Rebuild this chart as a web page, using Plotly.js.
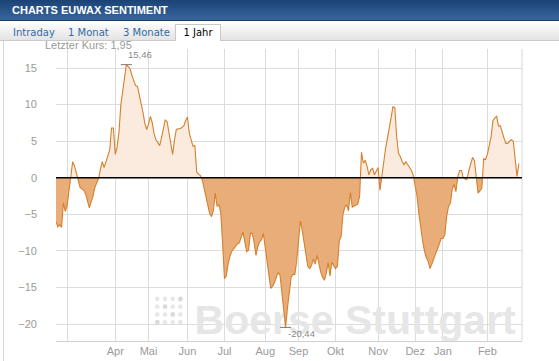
<!DOCTYPE html>
<html><head><meta charset="utf-8">
<script src="https://cdn.plot.ly/plotly-3.0.1.min.js"></script>
<style>
html,body{margin:0;padding:0;width:559px;height:361px;overflow:hidden;background:#fff;}
#hdr{position:absolute;left:0;top:0;width:559px;height:21px;background:linear-gradient(#1b4275,#37669d);border-bottom:1px solid #1d3b62;color:#fff;font:bold 11px "Liberation Sans",Arial,sans-serif;line-height:21px;padding-left:12px;box-sizing:border-box;z-index:3;}
#tabs{position:absolute;left:0;top:21px;width:559px;height:20px;background:linear-gradient(#ffffff,#e3e3e3);border-bottom:1px solid #c9c9c9;box-sizing:border-box;z-index:3;font:10px "DejaVu Sans",Verdana,sans-serif;}
.tab{position:absolute;top:4px;line-height:15px;color:#2f6aa5;white-space:nowrap;}
#act{position:absolute;left:175px;top:3px;width:46px;height:17px;background:#fff;border:1px solid #c9c9c9;border-bottom:none;box-sizing:border-box;color:#000;text-align:center;line-height:16px;}
#border{position:absolute;left:3px;top:41px;width:1px;height:320px;background:#d6d6d6;z-index:3}
#chart{position:absolute;left:0;top:0;width:559px;height:361px;z-index:1}
</style>
</head><body>
<div id="chart"></div>
<div id="hdr">CHARTS EUWAX SENTIMENT</div>
<div id="tabs">
  <span class="tab" style="left:13px">Intraday</span>
  <span class="tab" style="left:68px">1 Monat</span>
  <span class="tab" style="left:123px">3 Monate</span>
  <div id="act">1 Jahr</div>
</div>
<div id="border"></div>
<script>
// Sentiment values, one per trading day
const sentiment = [
 -6.0,-6.7,-6.4,-6.8,-3.4,-4.6,-3.8,-2.0,-0.1,2.2,
 1.6,0.8,-0.3,-1.3,-1.5,-1.7,-2.2,-3.0,-4.1,-3.3,
 -2.5,-1.3,-0.6,-0.1,1.2,2.2,1.4,2.2,2.9,3.8,
 6.8,6.8,3.2,4.2,6.2,9.9,11.8,13.8,15.46,15.2,
 14.9,14.0,13.4,12.6,12.5,11.4,10.3,8.9,7.4,6.6,
 7.4,8.4,7.5,6.0,5.2,4.8,4.4,5.5,6.8,7.9,
 7.7,6.3,4.5,3.2,5.2,6.6,6.7,6.7,6.9,7.1,
 7.8,8.3,6.1,5.0,4.3,4.4,0.8,0.5,0.3,-0.3,
 -1.5,-2.7,-3.8,-4.9,-5.3,-4.5,-2.1,-3.9,-3.7,-4.8,
 -9.0,-13.8,-13.4,-11.7,-10.7,-10.0,-9.7,-9.3,-9.0,-8.9,
 -8.0,-7.4,-8.8,-10.1,-9.9,-7.6,-7.6,-8.8,-10.6,-9.4,
 -8.7,-8.5,-7.6,-9.3,-11.6,-13.3,-15.1,-14.8,-14.3,-13.6,
 -12.9,-13.3,-16.0,-18.8,-20.44,-17.8,-15.5,-13.6,-13.2,-13.2,
 -11.4,-9.0,-5.9,-7.2,-9.0,-11.0,-12.1,-12.4,-12.0,-11.1,
 -11.8,-10.6,-11.9,-12.9,-13.6,-14.0,-13.0,-11.6,-13.4,-11.5,
 -12.0,-12.4,-12.1,-8.6,-8.0,-5.0,-4.0,-3.7,-4.5,-2.0,
 -4.0,-3.9,-3.8,-3.6,-2.5,3.5,2.0,2.4,1.6,0.4,
 1.1,1.3,0.4,1.0,1.4,-1.7,0.4,2.3,4.0,5.4,
 6.8,8.4,9.7,9.6,5.6,3.3,2.9,2.2,1.8,2.2,
 1.8,1.4,1.0,0.3,-1.0,-2.5,-4.9,-6.9,-8.6,-10.0,
 -10.9,-11.4,-12.4,-11.8,-11.0,-10.4,-9.8,-8.9,-8.3,-8.3,
 -7.8,-5.3,-3.9,-3.5,-1.6,-0.9,-1.9,0.2,1.0,1.0,
 0.0,-0.2,-0.2,1.0,2.0,2.8,2.3,-0.3,-2.1,-1.8,
 -1.4,2.6,2.5,3.2,4.2,5.6,7.8,8.2,8.4,7.1,
 7.1,6.4,5.4,4.7,4.7,5.0,5.2,5.0,2.8,0.2,
 1.95
];
// trading day index of each month's first session
const monthDays = [6,32,50,71,91,113,131,151,174,194,209,233];
const monthLabels = ['','Apr','Mai','Jun','Jul','Aug','Sep','Okt','Nov','Dez','Jan','Feb'];
const yTicks = [-20,-15,-10,-5,0,5,10,15];

const days = sentiment.map((_, i) => i);
const fmt = v => v.toFixed(2).replace('.', ',');

function split(xs, ys, positive) {
  const ox = [], oy = [];
  for (let i = 0; i < xs.length; i++) {
    if (i > 0) {
      const a = ys[i-1], b = ys[i];
      if ((a > 0 && b < 0) || (a < 0 && b > 0)) {
        const t = a / (a - b);
        ox.push(xs[i-1] + t * (xs[i] - xs[i-1])); oy.push(0);
      }
    }
    ox.push(xs[i]);
    oy.push(positive ? Math.max(ys[i], 0) : Math.min(ys[i], 0));
  }
  return [ox, oy];
}
const [px, py] = split(days, sentiment, true);
const [nx, ny] = split(days, sentiment, false);

const xRange = [0, 251.7];
const yRange = [-22.3, 17.6];

const traces = [
  {x:[xRange[0] + 0.642*(xRange[1]-xRange[0])], y:[yRange[0] + 0.06*(yRange[1]-yRange[0])], mode:'text', text:['Boerse Stuttgart'],
   textposition:'middle center', textfont:{family:'"Liberation Sans", Arial, sans-serif', size:41, color:'#e6e6e6', weight:'bold'},
   hoverinfo:'skip', showlegend:false, cliponaxis:false},
  {x:px, y:py, mode:'lines', fill:'tozeroy', fillcolor:'#faebde', line:{width:0}, hoverinfo:'skip'},
  {x:nx, y:ny, mode:'lines', fill:'tozeroy', fillcolor:'#e9ad7a', line:{width:0}, hoverinfo:'skip'},
  {x:days, y:sentiment, mode:'lines', line:{color:'#d5802d', width:1.1}, hoverinfo:'skip'}
];

let iMax = 0, iMin = 0;
sentiment.forEach((v, i) => { if (v > sentiment[iMax]) iMax = i; if (v < sentiment[iMin]) iMin = i; });
const last = sentiment[sentiment.length - 1];

const shapes = [
  {type:'line', xref:'paper', yref:'y', x0:0, x1:1, y0:0, y1:0, line:{color:'#000', width:1.5}, layer:'above'},
  {type:'line', xref:'paper', yref:'paper', x0:1, x1:1, y0:0, y1:1, line:{color:'#d8d8d8', width:1}, layer:'below'},
  {type:'line', xref:'x', yref:'y', x0:days[iMax]-3, x1:days[iMax]+3, y0:sentiment[iMax], y1:sentiment[iMax], line:{color:'#777', width:1}, layer:'above'},
  {type:'line', xref:'x', yref:'y', x0:days[iMin]-3, x1:days[iMin]+3, y0:sentiment[iMin], y1:sentiment[iMin], line:{color:'#777', width:1}, layer:'above'}
];
// watermark logo dots (4x4)
const dotShade = [[0,0,0,1],[0,1,0,0],[0,0,1,0],[1,0,0,0]];
for (let r = 0; r < 4; r++) for (let c = 0; c < 4; c++) {
  const cx = (157.3 + c*7.7 - 56) / 466, cy = (341 - (299 + r*7.7)) / 292;
  const rx = 2.4/466, ry = 2.4/292;
  shapes.push({type:'circle', xref:'paper', yref:'paper', x0:cx-rx, x1:cx+rx, y0:cy-ry, y1:cy+ry,
    fillcolor: dotShade[r][c] ? '#d9d9d9' : '#e8e8e8', line:{width:0}, layer:'below'});
}

const annotations = [
  {xref:'paper', yref:'paper', x:-0.028, y:1.0154, xanchor:'left', yanchor:'middle', showarrow:false,
   text:'Letzter Kurs: ' + fmt(last), font:{size:11, color:'#9a9a9a'}},
  {xref:'x', yref:'y', x:days[iMax], y:sentiment[iMax], xanchor:'left', yanchor:'bottom', yshift:3, showarrow:false,
   text:fmt(sentiment[iMax]), font:{size:9.5, color:'#8a8a8a'}},
  {xref:'x', yref:'y', x:days[iMin], y:sentiment[iMin], xanchor:'left', yanchor:'top', yshift:1, showarrow:false,
   text:fmt(sentiment[iMin]), font:{size:9.5, color:'#8a8a8a'}}
];

const layout = {
  width:559, height:361,
  margin:{l:56, r:37, t:49, b:20, pad:0},
  paper_bgcolor:'rgba(0,0,0,0)', plot_bgcolor:'#fff',
  showlegend:false,
  font:{family:'"Liberation Sans", Arial, sans-serif', size:11, color:'#999'},
  xaxis:{range:xRange, tickmode:'array', tickvals:monthDays, ticktext:monthLabels, showgrid:true, gridcolor:'#dcdcdc',
         zeroline:false, showline:true, linecolor:'#d0d0d0', ticks:'', tickfont:{size:11, color:'#9a9a9a'}, fixedrange:true},
  yaxis:{range:yRange, tickmode:'array', tickvals:yTicks, showgrid:true, gridcolor:'#dcdcdc', zeroline:false, showline:false,
         ticks:'', ticklabelstandoff:18, tickfont:{size:11, color:'#9a9a9a'}, fixedrange:true},
  shapes, annotations
};
Plotly.newPlot('chart', traces, layout, {displayModeBar:false, staticPlot:true});
</script>
</body></html>
